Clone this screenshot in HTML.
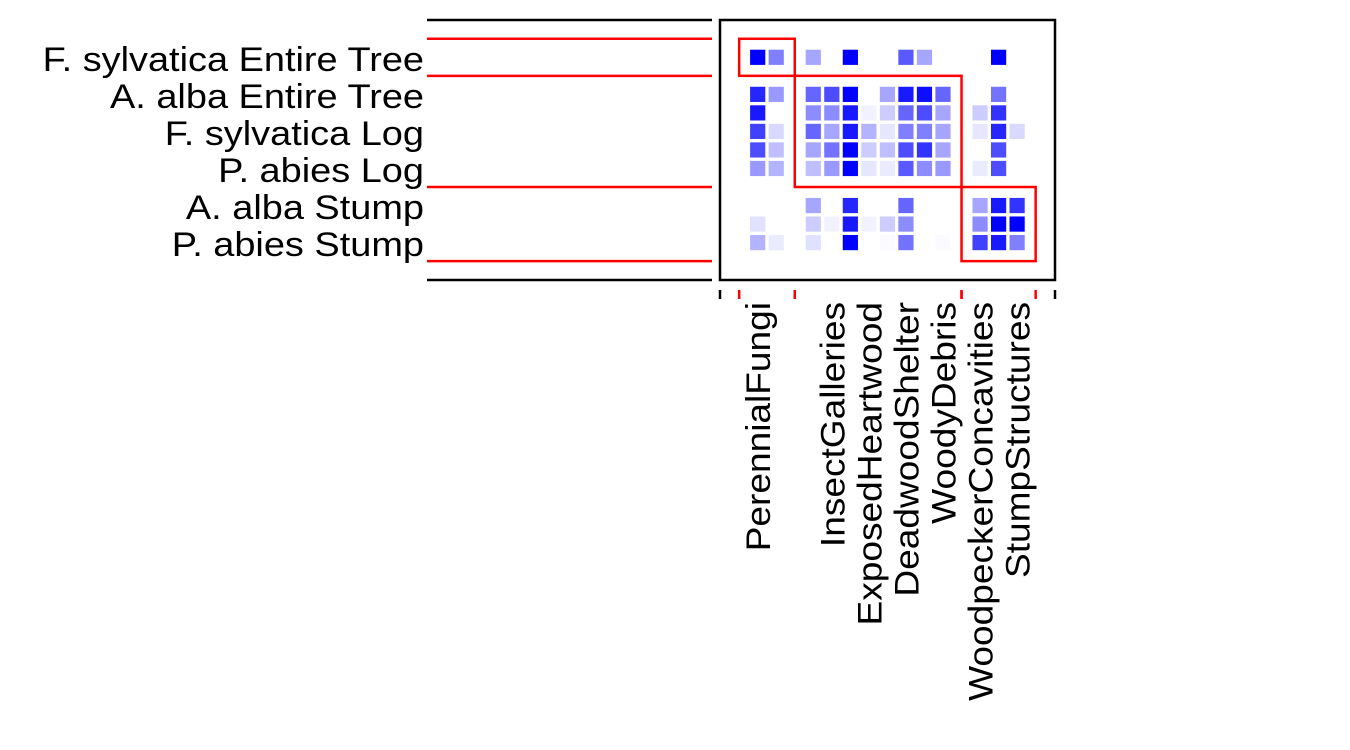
<!DOCTYPE html>
<html><head><meta charset="utf-8"><style>
html,body{margin:0;padding:0;background:#fff}
svg{display:block;font-family:"Liberation Sans",sans-serif}
</style></head><body>
<svg id="chart" width="1350" height="750">
<g id="cells"></g>
<g id="labels"></g>
</svg>
<script>
const rowNames = ["F. sylvatica Entire Tree","A. alba Entire Tree","","F. sylvatica Log","","P. abies Log","A. alba Stump","","P. abies Stump"];
const colNames = ["PerennialFungi","","","","InsectGalleries","","ExposedHeartwood","","DeadwoodShelter","","WoodyDebris","","WoodpeckerConcavities","","StumpStructures"];
const row0 = [1.0,0.5,0,0.35,0,1.0,0,0,0.65,0.35,0,0,0,1.0,0];
const row1 = [0.85,0.4,0,0.6,0.7,1.0,0,0.35,0.9,0.95,0.6,0,0,0.55,0];
const row2 = [0.9,0,0,0.45,0.45,0.9,0.05,0.2,0.6,0.7,0.35,0,0.2,0.8,0];
const row3 = [0.75,0.15,0,0.6,0.35,0.9,0.3,0.1,0.5,0.5,0.35,0,0.1,0.85,0.15];
const row4 = [0.7,0.25,0,0.35,0.55,1.0,0.2,0.25,0.7,0.8,0.35,0,0,0.7,0];
const row5 = [0.4,0.3,0,0.25,0.4,1.0,0.1,0.08,0.65,0.45,0.4,0,0.08,0.7,0];
const row6 = [0,0,0,0.35,0,0.85,0,0,0.6,0,0,0,0.35,0.9,0.8];
const row7 = [0.12,0,0,0.2,0.05,0.9,0.05,0.2,0.45,0,0,0,0.45,1.0,1.0];
const row8 = [0.3,0.08,0,0.12,0,1.0,0,0.02,0.55,0,0.02,0,0.75,0.9,0.5];
const rows = [row0,row1,row2,row3,row4,row5,row6,row7,row8];
// modules: [firstCol,lastCol,firstRow,lastRow]
const modules = [[0,1,0,0],[3,10,1,5],[12,14,6,8]];

const NS="http://www.w3.org/2000/svg";
const svg=document.getElementById('chart');
const gC=document.getElementById('cells');
const gL=document.getElementById('labels');
const x0=757.7, dx=18.53, y0=57.3;
const rowIdx=[0,2,3,4,5,6,8,9,10];
const cx=c=>x0+c*dx;
const cy=r=>y0+rowIdx[r]*dx;
function mk(t,a,p){const e=document.createElementNS(NS,t);for(const k in a)e.setAttribute(k,a[k]);(p||svg).appendChild(e);return e;}
const fr=mk('rect',{x:720,y:20,width:335,height:260,fill:'none',stroke:'#000','stroke-width':2.5});


[20,280].forEach(y=>{const l=mk('line',{x1:427,x2:712,y1:y,y2:y,stroke:'#000','stroke-width':2.5});

});
[720,1055].forEach(x=>{const l=mk('line',{x1:x,x2:x,y1:290,y2:299,stroke:'#000','stroke-width':2.5});

});
rows.forEach((vals,r)=>vals.forEach((v,c)=>{if(v<=0)return;
const k=Math.round(255*(1-v));
const e=mk('rect',{x:cx(c)-7.6,y:cy(r)-7.6,width:15.2,height:15.2,fill:`rgb(${k},${k},255)`},gC);


}));
modules.forEach((m,i)=>{
const xa=cx(m[0])-dx, xb=cx(m[1])+dx, ya=cy(m[2])-dx, yb=cy(m[3])+dx;
const b=mk('rect',{x:xa,y:ya,width:xb-xa,height:yb-ya,fill:'none',stroke:'#f00','stroke-width':2.5});


});
const yLines=new Set(),xTicks=new Set();
modules.forEach(m=>{yLines.add(cy(m[2])-dx);yLines.add(cy(m[3])+dx);xTicks.add(cx(m[0])-dx);xTicks.add(cx(m[1])+dx);});
yLines.forEach(y=>{const l=mk('line',{x1:427,x2:712,y1:y,y2:y,stroke:'#f00','stroke-width':2.5});

});
xTicks.forEach(x=>{const l=mk('line',{x1:x,x2:x,y1:290,y2:299,stroke:'#f00','stroke-width':2.5});

});
function stretch(t,f){const w=t.getComputedTextLength();t.setAttribute('textLength',(w*f).toFixed(1));t.setAttribute('lengthAdjust','spacingAndGlyphs');}
rowNames.forEach((n,r)=>{if(!n)return;
const t=mk('text',{x:424,y:cy(r)+13.5,'text-anchor':'end','font-size':34,fill:'#000'},gL);t.textContent=n;


stretch(t,1.115);});
colNames.forEach((n,c)=>{if(!n)return;
const x=cx(c)+12.5,y=302;
const t=mk('text',{x:x,y:y,'text-anchor':'end','font-size':34,fill:'#000',transform:`rotate(-90 ${x} ${y})`},gL);t.textContent=n;


stretch(t,1.09);});
</script>
</body></html>
